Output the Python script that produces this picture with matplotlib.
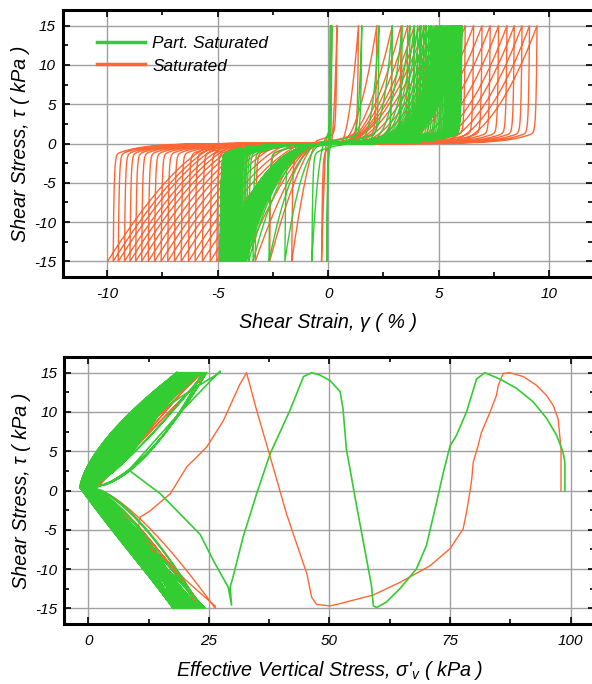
import numpy as np
import matplotlib
matplotlib.use("Agg")
import matplotlib.pyplot as plt
from matplotlib.ticker import MultipleLocator
from matplotlib.lines import Line2D

plt.rcParams["font.family"] = ["Liberation Sans", "DejaVu Sans"]
plt.rcParams["font.style"] = "italic"
plt.rcParams["axes.unicode_minus"] = False
plt.rcParams["mathtext.fontset"] = "custom"
plt.rcParams["mathtext.rm"] = "Liberation Sans:italic"
plt.rcParams["mathtext.it"] = "Liberation Sans:italic"

SAT_COLOR = "#ff6633"
PSAT_COLOR = "#33cc33"
TAU_AMP = 15.0  # cyclic shear stress amplitude (kPa)

# ---------------- shear strain (%) at each stress reversal ----------------
sat_gamma_pos = [0.16, 0.40, 1.37, 2.20, 2.90, 3.30, 3.60, 3.90, 4.15, 4.40, 4.65, 4.90, 5.15,
                 5.40, 5.65, 5.92, 6.20, 6.58, 6.96, 7.33, 7.71, 8.09, 8.42, 8.77, 9.11, 9.45]
sat_gamma_neg = [-0.30, -1.65, -2.65, -3.30, -3.80, -4.20, -4.55, -4.85, -5.04, -5.34, -5.69,
                 -6.02, -6.32, -6.65, -6.96, -7.26, -7.56, -7.86, -8.14, -8.44, -8.71, -8.97,
                 -9.22, -9.50, -9.73, -9.98]

psat_gamma_pos = [0.10, 0.16, 1.52, 2.30, 2.90, 3.35, 3.70, 3.90, 4.05, 4.20, 4.32, 4.44, 4.55,
                  4.65, 4.75, 4.84, 4.93, 5.01, 5.09, 5.16, 5.23, 5.30, 5.36, 5.42, 5.48, 5.53,
                  5.58, 5.63, 5.67, 5.71, 5.75, 5.79, 5.82, 5.85, 5.88, 5.91, 5.93, 5.95, 5.97,
                  5.99, 6.00, 6.01, 6.02, 6.03, 6.04, 6.05]
psat_gamma_neg = [-0.06, -0.74, -1.96, -2.68, -3.40, -3.60, -3.70, -3.78, -3.85, -3.92, -3.98,
                  -4.04, -4.10, -4.15, -4.20, -4.25, -4.30, -4.34, -4.38, -4.42, -4.46, -4.50,
                  -4.53, -4.56, -4.59, -4.62, -4.65, -4.67, -4.69, -4.71, -4.73, -4.75, -4.77,
                  -4.79, -4.80, -4.82, -4.83, -4.84, -4.85, -4.86, -4.87, -4.88, -4.88, -4.89,
                  -4.89, -4.89]

# ---------------- effective stress path: first cycles (sigma'v, tau) ----------------
sat_path_sv = [98.0, 98.0, 97.4, 96.4, 95.0, 92.9, 90.2, 87.4, 86.0, 85.0, 84.6, 83.3, 81.5,
               80.8, 79.8, 79.5, 79.1, 78.4, 77.7, 75.0, 70.8, 64.6, 59.1, 52.2, 50.1, 47.3,
               46.3, 45.3, 41.1, 37.7, 34.9, 32.8, 31.4, 28.0, 24.5, 20.4, 17.0, 12.8, 10.7,
               10.4, 15.0, 20.0, 24.0, 26.3]
sat_path_tau = [0.0, 5.3, 9.1, 10.8, 12.1, 13.4, 14.5, 15.0, 14.9, 13.4, 12.1, 10.0, 7.4,
                5.7, 3.6, 1.5, -0.2, -2.8, -4.9, -7.4, -9.6, -11.7, -13.3, -14.4, -14.7, -14.5,
                -13.6, -10.6, -3.0, 4.3, 10.2, 15.0, 13.5, 8.9, 5.5, 3.0, -0.4, -2.6, -3.4,
                -4.7, -8.0, -11.3, -13.5, -14.7]

psat_path_sv = [98.8, 98.8, 98.4, 97.1, 95.0, 92.2, 88.8, 85.3, 82.2, 80.5, 78.4, 76.3, 75.0,
                73.6, 72.2, 70.1, 68.0, 64.6, 61.8, 59.8, 59.1, 58.7, 55.6, 53.5, 52.8, 52.2,
                50.1, 48.0, 46.3, 44.6, 41.8, 37.7, 34.9, 32.1, 30.0, 29.4, 29.7, 29.0, 25.9,
                23.2, 14.9, 8.4, 18.5, 27.3]
psat_path_tau = [0.0, 3.6, 4.9, 7.0, 9.2, 11.3, 13.0, 14.2, 15.0, 14.2, 10.0, 7.0, 5.7,
                 2.3, -1.5, -7.0, -10.0, -12.5, -14.2, -14.9, -14.7, -12.1, -1.9, 5.3, 10.4, 12.6,
                 14.0, 14.7, 15.0, 14.5, 10.2, 4.7, -0.4, -5.9, -11.0, -12.3, -14.6, -12.3, -8.9,
                 -5.6, -0.4, 2.6, 9.6, 15.2]

# ---------------- butterfly cycles near liquefaction ----------------
sat_wing_pos = [24.6, 23.6, 22.8, 22.2, 21.8, 21.4, 21.1, 20.9, 20.7, 20.5]
sat_wing_neg = [23.9, 23.0, 22.4, 21.9, 21.5, 21.2, 20.9, 20.7, 20.5, 20.3]
sat_tip_up = [1.6, 1.0, 0.6, 0.3, 0.1, 0.0, -0.2, -0.3, -0.4, -0.5]
sat_tip_down = [1.2, 0.8, 0.4, 0.2, 0.0, -0.1, -0.3, -0.4, -0.5, -0.6]

psat_wing_neg = [24.2, 23.8, 23.4, 23.1, 22.8, 22.5, 22.2, 22.0, 21.7, 21.5, 21.2, 21.0,
                 20.8, 20.6, 20.4, 20.2, 20.0, 19.8, 19.7, 19.5, 19.3, 19.2, 19.0, 18.9,
                 18.7, 18.6, 18.5, 18.4, 18.2, 18.1, 18.0, 17.9, 17.8, 17.7, 17.7, 17.6,
                 17.6, 17.7, 17.6, 17.8, 17.6, 17.7, 17.9, 17.6, 17.8, 17.7, 18.0, 17.6,
                 17.8, 17.7]
psat_wing_pos = [24.5, 24.1, 23.7, 23.4, 23.1, 22.8, 22.5, 22.3, 22.0, 21.8, 21.5, 21.3,
                 21.1, 20.9, 20.7, 20.5, 20.3, 20.2, 20.0, 19.9, 19.7, 19.6, 19.4, 19.3,
                 19.2, 19.0, 18.9, 18.8, 18.7, 18.6, 18.6, 18.5, 18.4, 18.4, 18.3, 18.3,
                 18.3, 18.4, 18.3, 18.5, 18.3, 18.6, 18.4, 18.3, 18.7, 18.4, 18.3, 18.5,
                 18.4, 18.3]
psat_tip_down = [1.0, 0.6, 0.2, 0.5, -0.2, 0.1, -0.5, -0.2, -0.8, -0.4, -1.0, -0.6,
                 -1.1, -0.7, -1.3, -0.9, -1.4, -1.0, -1.5, -1.1, -1.5, -1.2, -1.6, -1.3,
                 -1.6, -1.4, -1.7, -1.4, -1.7, -1.5, -1.7, -1.5, -1.7, -1.6, -1.7, -1.6,
                 -1.6, -1.7, -1.5, -1.7, -1.6, -1.7, -1.5, -1.7, -1.6, -1.7, -1.6, -1.7,
                 -1.6, -1.7]
psat_tip_up = [0.8, 0.3, 0.6, -0.1, 0.2, -0.4, 0.0, -0.6, -0.3, -0.9, -0.5, -1.1,
               -0.7, -1.2, -0.9, -1.3, -1.0, -1.4, -1.2, -1.5, -1.3, -1.5, -1.4, -1.6,
               -1.5, -1.6, -1.5, -1.7, -1.6, -1.7, -1.6, -1.7, -1.7, -1.7, -1.7, -1.7,
               -1.7, -1.6, -1.7, -1.5, -1.7, -1.6, -1.7, -1.6, -1.7, -1.5, -1.7, -1.6,
               -1.7, -1.7]

# curvature of the loading / unloading wings of the butterfly loops (cycled)
SAT_WING_CURV_UP = [1.0, 0.9, 1.1]
SAT_WING_CURV_LO = [0.72, 0.8, 0.9]
PSAT_WING_CURV_UP = [1.55, 0.60, 1.15, 0.80, 1.40, 0.55, 1.00, 1.30, 0.70, 1.10, 0.90, 1.45,
                     0.65, 1.05, 0.75, 1.25, 0.85, 1.50, 0.95, 1.20, 0.62, 1.35, 0.78, 1.18,
                     0.88]
PSAT_WING_CURV_LO = [1.05, 0.60, 0.85, 0.95, 0.65, 0.75, 1.00, 0.70, 0.90, 0.80, 1.02, 0.62,
                     0.88, 0.68, 0.98, 0.72, 0.93, 0.78, 0.83, 0.64, 0.97, 0.74, 0.86]


def strain_half_cycle(g_a, t_a, g_b, t_b, onset, span_max, k,
                      lam_fast=0.04, lam_slow=1.2, slow=0.1):
    """Stress-strain branch from one stress reversal to the next."""
    s = 1.0 if g_b >= g_a else -1.0
    d = abs(g_b - g_a)
    gs = max(onset, g_b - span_max) if s > 0 else min(onset, g_b + span_max)
    x_s = min(max(s * (gs - g_a), 0.0), d - min(0.5 * d, 0.3))
    x = np.unique(np.concatenate([np.linspace(0, d, 260), np.linspace(0, min(d, 0.3), 40)]))
    unload = t_a * ((1 - slow) * np.exp(-x / lam_fast) + slow * np.exp(-x / lam_slow)) * (1 - x / d)
    u = np.clip((x - x_s) / (d - x_s), 0, 1)
    load = t_b * u ** k
    return g_a + s * x, unload + load


def strain_path(pos, neg, onset_pos, span_pos, k_pos, onset_neg, span_neg, k_neg):
    peaks = [(0.0, 0.0)]
    for gp, gn in zip(pos, neg):
        peaks += [(gp, TAU_AMP), (gn, -TAU_AMP)]
    gs, ts = [], []
    for (ga, ta), (gb, tb) in zip(peaks[:-1], peaks[1:]):
        if tb > 0:
            g, t = strain_half_cycle(ga, ta, gb, tb, onset_pos, span_pos, k_pos)
        else:
            g, t = strain_half_cycle(ga, ta, gb, tb, onset_neg, span_neg, k_neg)
        gs.append(g)
        ts.append(t)
    return np.concatenate(gs), np.concatenate(ts)


def wing(sv_tip, tau_tip, sv_peak, tau_peak, m, n=40):
    tau = np.linspace(tau_tip, tau_peak, n)
    frac = (tau - tau_tip) / (tau_peak - tau_tip)
    return sv_tip + (sv_peak - sv_tip) * frac ** m, tau


def stress_path(path_sv, path_tau, pos, neg, tips_up, tips_down, tau_tip, curv_up, curv_lo):
    sv = [np.asarray(path_sv, float)]
    tau = [np.asarray(path_tau, float)]
    cur_sv, cur_tau = path_sv[-1], path_tau[-1]
    seq = []
    if cur_tau > 0:
        for tdn, pn, tup, pp in zip(tips_down, neg, tips_up, pos):
            seq += [(tdn, pn, -1), (tup, pp, 1)]
    else:
        for tup, pp, tdn, pn in zip(tips_up, pos, tips_down, neg):
            seq += [(tup, pp, 1), (tdn, pn, -1)]
    m_prev = curv_up[0] if cur_tau > 0 else curv_lo[0]
    for i, (tip, peak, sign) in enumerate(seq):
        s1, t1 = wing(tip, tau_tip, cur_sv, np.sign(cur_tau) * TAU_AMP, m_prev)
        m_fwd = curv_up[i % len(curv_up)] if sign > 0 else curv_lo[i % len(curv_lo)]
        s2, t2 = wing(tip, tau_tip, peak, sign * TAU_AMP, m_fwd)
        sv += [s1[::-1], s2]
        tau += [t1[::-1], t2]
        cur_sv, cur_tau, m_prev = peak, sign * TAU_AMP, m_fwd
    return np.concatenate(sv), np.concatenate(tau)


fig = plt.figure(figsize=(5.92, 6.84), dpi=100)
ax1 = fig.add_axes([63 / 592, (684 - 277) / 684, 530.4 / 592, 267 / 684])
ax2 = fig.add_axes([64.2 / 592, (684 - 624) / 684, 530.6 / 592, 267 / 684])

# stress-strain loops
g_sat, t_sat = strain_path(sat_gamma_pos, sat_gamma_neg, 0.5, 4.0, 2.0, -0.5, 5.0, 1.5)
g_psat, t_psat = strain_path(psat_gamma_pos, psat_gamma_neg, 0.8, 99, 5.0, 0.0, 99, 2.5)
ax1.plot(g_sat, t_sat, color=SAT_COLOR, lw=1.0, zorder=3)
ax1.plot(g_psat, t_psat, color=PSAT_COLOR, lw=1.0, zorder=4)

# effective stress paths
s_sat, q_sat = stress_path(sat_path_sv, sat_path_tau, sat_wing_pos, sat_wing_neg,
                           sat_tip_up, sat_tip_down, 0.2, SAT_WING_CURV_UP, SAT_WING_CURV_LO)
s_psat, q_psat = stress_path(psat_path_sv, psat_path_tau, psat_wing_pos, psat_wing_neg,
                             psat_tip_up, psat_tip_down, 0.4, PSAT_WING_CURV_UP, PSAT_WING_CURV_LO)
ax2.plot(s_sat, q_sat, color=SAT_COLOR, lw=1.0, zorder=3)
ax2.plot(s_psat, q_psat, color=PSAT_COLOR, lw=1.2, zorder=4)

for ax in (ax1, ax2):
    ax.set_ylim(-17, 17)
    ax.yaxis.set_major_locator(MultipleLocator(5))
    ax.yaxis.set_minor_locator(MultipleLocator(2.5))
    ax.grid(which="major", color="#a0a0a0", lw=1.0)
    ax.set_axisbelow(True)
    ax.tick_params(which="both", direction="in", top=True, right=True,
                   labelsize=11, width=1.2)
    ax.tick_params(axis="x", which="both", pad=7)
    ax.tick_params(axis="y", which="both", pad=5)
    ax.tick_params(which="major", length=5)
    ax.tick_params(which="minor", length=3.5)
    for sp in ax.spines.values():
        sp.set_linewidth(2.2)
    ax.set_ylabel("Shear Stress, τ ( kPa )", fontsize=14.2, labelpad=3)

ax1.set_xlim(-12, 12)
ax1.xaxis.set_major_locator(MultipleLocator(5))
ax1.xaxis.set_minor_locator(MultipleLocator(2.5))
ax1.set_xlabel("Shear Strain, γ ( % )", fontsize=14.2, labelpad=9)

ax2.set_xlim(-5, 105)
ax2.xaxis.set_major_locator(MultipleLocator(25))
ax2.xaxis.set_minor_locator(MultipleLocator(12.5))
ax2.set_xlabel("Effective Vertical Stress, σ'$_v$ ( kPa )", fontsize=14.2, labelpad=8)

handles = [Line2D([], [], color=PSAT_COLOR, lw=2.5), Line2D([], [], color=SAT_COLOR, lw=2.5)]
ax1.legend(handles, ["Part. Saturated", "Saturated"], loc="upper left",
           bbox_to_anchor=(0.035, 0.96), frameon=False, fontsize=12.4,
           handlelength=2.8, handletextpad=0.4, labelspacing=0.42)

fig.savefig("out.png", dpi=100)
